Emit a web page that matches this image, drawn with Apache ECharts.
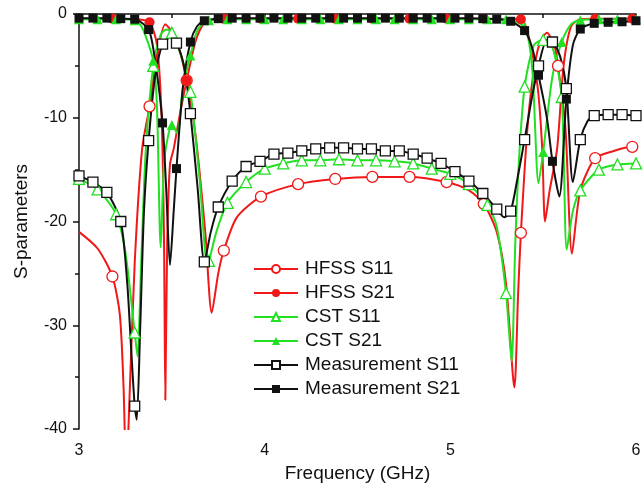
<!DOCTYPE html>
<html>
<head>
<meta charset="utf-8">
<script src="https://cdn.jsdelivr.net/npm/echarts@6/dist/echarts.min.js"></script>
<style>
html, body { margin: 0; padding: 0; background: #fff; }
#chart { width: 644px; height: 489px; }
</style>
</head>
<body>
<div id="chart"></div>
<script>
// [frequency GHz, dB]
const hfssS11 = [[3.0,-21],[3.1,-22.6],[3.18,-25.3],[3.22,-29],[3.24,-36],[3.255,-45],[3.27,-38],[3.3,-24],[3.34,-13],[3.38,-8.9],[3.42,-4],[3.465,-1.0],[3.52,-2.3],[3.58,-6.4],[3.63,-12],[3.68,-21],[3.715,-28.8],[3.75,-25],[3.78,-22.8],[3.85,-19.6],[3.98,-17.6],[4.18,-16.4],[4.38,-15.9],[4.58,-15.7],[4.78,-15.7],[4.98,-16.2],[5.1,-17],[5.18,-18.3],[5.25,-21],[5.3,-26],[5.345,-36],[5.365,-27],[5.38,-21.1],[5.42,-10],[5.47,-3.5],[5.52,-1.8],[5.56,-3],[5.58,-5],[5.62,-11],[5.655,-23.1],[5.7,-17],[5.78,-13.9],[5.88,-13.2],[5.98,-12.8],[6.0,-12.8]];
const hfssS21 = [[3.0,-0.45],[3.18,-0.45],[3.3,-0.5],[3.38,-0.8],[3.42,-3],[3.445,-10],[3.458,-22],[3.465,-37.2],[3.475,-22],[3.49,-14.5],[3.51,-13],[3.54,-10],[3.58,-6.4],[3.63,-2.5],[3.68,-0.8],[3.78,-0.45],[3.98,-0.45],[4.18,-0.45],[4.38,-0.45],[4.58,-0.45],[4.78,-0.45],[4.98,-0.45],[5.18,-0.45],[5.38,-0.5],[5.42,-2],[5.47,-7],[5.495,-13],[5.51,-20],[5.535,-17],[5.575,-13],[5.61,-5],[5.65,-1.2],[5.7,-0.5],[5.78,-0.45],[5.98,-0.45],[6.0,-0.45]];
const cstS11 = [[3.0,-15.9],[3.1,-16.9],[3.2,-19.3],[3.25,-23],[3.3,-30.7],[3.315,-33],[3.335,-24],[3.36,-13],[3.4,-5],[3.44,-2],[3.47,-1.5],[3.5,-1.8],[3.55,-4],[3.6,-7.5],[3.65,-16],[3.69,-24],[3.7,-23.8],[3.74,-21],[3.8,-18.2],[3.9,-16.2],[4.0,-14.9],[4.1,-14.4],[4.2,-14.1],[4.3,-14.1],[4.4,-14.0],[4.5,-14.1],[4.6,-14.1],[4.7,-14.2],[4.8,-14.4],[4.9,-14.9],[5.0,-15.4],[5.1,-16.4],[5.2,-18.4],[5.25,-20.5],[5.3,-26.9],[5.33,-33.5],[5.35,-22],[5.37,-14],[5.4,-7],[5.45,-3],[5.5,-2.5],[5.55,-3.2],[5.6,-8],[5.627,-22.7],[5.66,-19],[5.7,-17],[5.8,-15],[5.9,-14.5],[6.0,-14.4]];
const cstS21 = [[3.0,-0.5],[3.1,-0.5],[3.2,-0.5],[3.3,-0.6],[3.34,-1.3],[3.4,-4.5],[3.42,-9],[3.44,-22.5],[3.46,-14],[3.5,-10.7],[3.53,-11.5],[3.56,-7],[3.6,-4],[3.64,-1.5],[3.7,-0.6],[3.8,-0.5],[3.9,-0.5],[4.0,-0.5],[4.1,-0.5],[4.2,-0.5],[4.3,-0.5],[4.4,-0.5],[4.5,-0.5],[4.6,-0.5],[4.7,-0.5],[4.8,-0.5],[4.9,-0.5],[5.0,-0.5],[5.1,-0.5],[5.2,-0.5],[5.3,-0.5],[5.4,-1.3],[5.44,-5],[5.475,-16.3],[5.5,-13.3],[5.55,-6],[5.6,-2.7],[5.65,-1.0],[5.7,-0.6],[5.8,-0.5],[5.9,-0.5],[6.0,-0.5]];
const measS11 = [[3.0,-15.6],[3.075,-16.2],[3.15,-17.2],[3.225,-20.0],[3.26,-26],[3.28,-32],[3.3,-37.8],[3.311,-39.1],[3.33,-30],[3.35,-19],[3.375,-12.2],[3.41,-6],[3.45,-2.9],[3.49,-2.3],[3.525,-2.8],[3.565,-5],[3.6,-9.6],[3.64,-17],[3.675,-23.9],[3.71,-21],[3.75,-18.6],[3.825,-16.1],[3.9,-14.7],[3.975,-14.2],[4.05,-13.5],[4.125,-13.4],[4.2,-13.2],[4.275,-13.0],[4.35,-12.9],[4.425,-12.9],[4.5,-13.0],[4.575,-13.0],[4.65,-13.2],[4.725,-13.2],[4.8,-13.5],[4.875,-13.9],[4.95,-14.4],[5.025,-15.2],[5.1,-16.1],[5.175,-17.3],[5.25,-18.8],[5.29,-19.6],[5.325,-19.0],[5.36,-16],[5.4,-12.1],[5.44,-8],[5.475,-5.0],[5.52,-2.5],[5.55,-2.7],[5.59,-4],[5.625,-7.2],[5.66,-16.2],[5.7,-12.1],[5.74,-10.3],[5.775,-9.8],[5.85,-9.7],[5.925,-9.7],[6.0,-9.8]];
const measS21 = [[3.0,-0.4],[3.075,-0.4],[3.15,-0.4],[3.225,-0.45],[3.3,-0.5],[3.375,-1.5],[3.41,-4.5],[3.45,-10.5],[3.47,-17],[3.49,-24.2],[3.51,-19],[3.525,-14.9],[3.56,-7],[3.6,-2.7],[3.635,-1.2],[3.675,-0.65],[3.75,-0.45],[3.825,-0.4],[3.9,-0.4],[3.975,-0.4],[4.05,-0.4],[4.125,-0.4],[4.2,-0.4],[4.275,-0.4],[4.35,-0.4],[4.425,-0.4],[4.5,-0.4],[4.575,-0.4],[4.65,-0.4],[4.725,-0.4],[4.8,-0.4],[4.875,-0.4],[4.95,-0.4],[5.025,-0.4],[5.1,-0.4],[5.175,-0.45],[5.25,-0.5],[5.325,-0.7],[5.4,-1.6],[5.44,-3.2],[5.475,-5.9],[5.52,-10],[5.55,-14.2],[5.587,-17.6],[5.625,-8.2],[5.66,-3],[5.7,-1.45],[5.775,-0.9],[5.85,-0.8],[5.925,-0.75],[6.0,-0.65]];

// marker grids: [first marker freq, step]
const hfssMarks = [3.18, 0.2];
const cstMarks = [3.0, 0.1];
const measMarks = [3.0, 0.075];

const RED = '#f01818';
const GREEN = '#22e022';
const BLACK = '#111';
const FONT = "'Liberation Sans', Arial, sans-serif";

function withMarks(points, grid) {
    return points.map(function (p) {
        let k = (p[0] - grid[0]) / grid[1];
        if (Math.abs(k - Math.round(k)) < 0.02) {
            return { value: p };
        }
        return { value: p, symbol: 'none' };
    });
}

function makeSeries(name, points, grid, color, symbol, filled, size) {
    return {
        name: name,
        type: 'line',
        data: withMarks(points, grid),
        smooth: 0.25,
        showAllSymbol: true,
        symbol: symbol,
        symbolSize: size,
        lineStyle: { color: color, width: 2 },
        itemStyle: {
            color: filled ? color : '#fff',
            borderColor: color,
            borderWidth: filled ? 0 : 1.3
        },
        emphasis: { disabled: true },
        clip: true
    };
}

let myChart = echarts.init(document.getElementById('chart'));
let option = {
    animation: false,
    backgroundColor: '#fff',
    textStyle: { fontFamily: FONT },
    grid: { left: 79, right: 8, top: 14, bottom: 60 },
    legend: {
        orient: 'vertical',
        left: 253,
        top: 259,
        padding: 0,
        itemWidth: 44,
        itemHeight: 10,
        itemGap: 4,
        textStyle: { fontSize: 19, lineHeight: 20, color: '#111', fontFamily: FONT, padding: [0, 0, 0, 2] },
        data: ['HFSS S11', 'HFSS S21', 'CST S11', 'CST S21', 'Measurement S11', 'Measurement S21']
    },
    xAxis: {
        type: 'value',
        min: 3,
        max: 6,
        interval: 1,
        name: 'Frequency (GHz)',
        nameLocation: 'middle',
        nameGap: 30,
        nameTextStyle: { fontSize: 19, color: '#111', fontFamily: FONT },
        axisLine: { lineStyle: { color: '#111', width: 1.5 } },
        axisTick: { length: 6, lineStyle: { color: '#111', width: 1.5 } },
        minorTick: { show: true, splitNumber: 2, length: 4, lineStyle: { color: '#111', width: 1.5 } },
        axisLabel: { fontSize: 16, color: '#111', margin: 14, fontFamily: FONT },
        splitLine: { show: false }
    },
    yAxis: {
        type: 'value',
        min: -40,
        max: 0,
        interval: 10,
        name: 'S-parameters',
        nameLocation: 'middle',
        nameGap: 48,
        nameTextStyle: { fontSize: 19, color: '#111', fontFamily: FONT },
        axisLine: { show: true, lineStyle: { color: '#111', width: 1.5 } },
        axisTick: { show: true, length: 6, lineStyle: { color: '#111', width: 1.5 } },
        minorTick: { show: true, splitNumber: 2, length: 4, lineStyle: { color: '#111', width: 1.5 } },
        axisLabel: { fontSize: 16, color: '#111', margin: 12, fontFamily: FONT },
        splitLine: { show: false }
    },
    series: [
        makeSeries('HFSS S11', hfssS11, hfssMarks, RED, 'circle', false, 11),
        makeSeries('HFSS S21', hfssS21, hfssMarks, RED, 'circle', true, 10),
        makeSeries('CST S11', cstS11, cstMarks, GREEN, 'triangle', false, 11),
        makeSeries('CST S21', cstS21, cstMarks, GREEN, 'triangle', true, 10),
        makeSeries('Measurement S11', measS11, measMarks, BLACK, 'rect', false, 10),
        makeSeries('Measurement S21', measS21, measMarks, BLACK, 'rect', true, 9)
    ]
};
myChart.setOption(option);
</script>
</body>
</html>
